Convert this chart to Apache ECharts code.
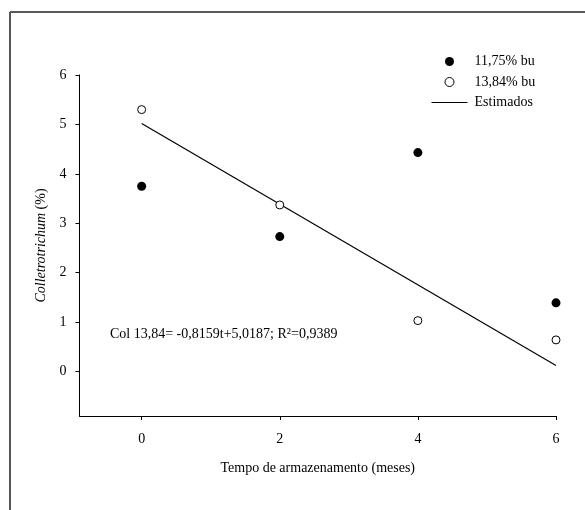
<!DOCTYPE html>
<html>
<head>
<meta charset="utf-8">
<script src="https://cdn.jsdelivr.net/npm/echarts@6/dist/echarts.min.js"></script>
<style>
  html, body { margin: 0; padding: 0; background: #fff; }
  #chart { width: 585px; height: 510px; }
</style>
</head>
<body>
<div id="chart"></div>
<script>
// valores
const meses = [0, 2, 4, 6];
const bu1175 = [3.75, 2.73, 4.43, 1.39];
const bu1384 = [5.30, 3.37, 1.03, 0.64];
const estimadoX = [0, 6];
const estimadoY = [5.0187, 0.1233];
const xTicks = [0, 2, 4, 6];
const yTicks = [0, 1, 2, 3, 4, 5, 6];

const font = 'Liberation Serif';

function pares(xs, ys) {
  return xs.map((x, i) => [x, ys[i]]);
}

let myChart = echarts.init(document.getElementById('chart'));
myChart.setOption({
  animation: false,
  textStyle: { fontFamily: font, color: '#000' },
  grid: { left: 79.5, right: 29, top: 75, bottom: 94 },
  legend: {
    orient: 'vertical',
    left: 426,
    top: 49.5,
    itemWidth: 36,
    itemHeight: 9,
    itemGap: 6.5,
    textStyle: { fontFamily: font, fontSize: 14, color: '#000', lineHeight: 14, padding: [0, 0, 0, 2] },
    data: [
      '11,75% bu',
      { name: '13,84% bu', itemStyle: { borderWidth: 1 } },
      { name: 'Estimados', itemStyle: { opacity: 0 }, lineStyle: { width: 1 } }
    ]
  },
  xAxis: {
    type: 'value',
    min: -0.9,
    max: 6,
    name: 'Tempo de armazenamento (meses)',
    nameLocation: 'middle',
    nameGap: 45,
    nameTextStyle: { fontFamily: font, fontSize: 14, color: '#000' },
    splitLine: { show: false },
    axisLine: { onZero: false, lineStyle: { color: '#000', width: 1 } },
    axisTick: { show: true, length: 4, lineStyle: { color: '#000' }, customValues: xTicks },
    axisLabel: { fontFamily: font, fontSize: 14, color: '#000', margin: 16, customValues: xTicks }
  },
  yAxis: {
    type: 'value',
    min: -0.9,
    max: 6,
    name: '{i|Colletrotrichum} (%)',
    nameLocation: 'middle',
    nameRotate: 90,
    nameGap: 31,
    nameTextStyle: {
      fontFamily: font, fontSize: 14, color: '#000',
      rich: { i: { fontFamily: font, fontSize: 14, fontStyle: 'italic', color: '#000' } }
    },
    splitLine: { show: false },
    axisLine: { show: true, onZero: false, lineStyle: { color: '#000', width: 1 } },
    axisTick: { show: true, length: 4, lineStyle: { color: '#000' }, customValues: yTicks },
    axisLabel: { fontFamily: font, fontSize: 14, color: '#000', margin: 13, customValues: yTicks }
  },
  series: [
    {
      name: '11,75% bu',
      type: 'scatter',
      symbol: 'circle',
      symbolSize: 9,
      itemStyle: { color: '#000', opacity: 1 },
      data: pares(meses, bu1175),
      z: 3
    },
    {
      name: '13,84% bu',
      type: 'scatter',
      symbol: 'circle',
      symbolSize: 8,
      itemStyle: { color: '#fff', borderColor: '#000', borderWidth: 1, opacity: 1 },
      data: pares(meses, bu1384),
      z: 4
    },
    {
      name: 'Estimados',
      type: 'line',
      symbol: 'none',
      lineStyle: { color: '#000', width: 1.2 },
      itemStyle: { color: '#000' },
      data: pares(estimadoX, estimadoY),
      z: 2
    }
  ],
  graphic: [
    {
      type: 'line',
      shape: { x1: 10, y1: 12, x2: 585, y2: 12 },
      style: { stroke: '#222', lineWidth: 1.3 }
    },
    {
      type: 'line',
      shape: { x1: 10, y1: 12, x2: 10, y2: 510 },
      style: { stroke: '#555', lineWidth: 2 }
    },
    {
      type: 'text',
      left: 110,
      top: 327,
      style: {
        text: 'Col 13,84= -0,8159t+5,0187; R²=0,9389',
        font: '14px "Liberation Serif"',
        fill: '#000'
      }
    }
  ]
});
</script>
</body>
</html>
